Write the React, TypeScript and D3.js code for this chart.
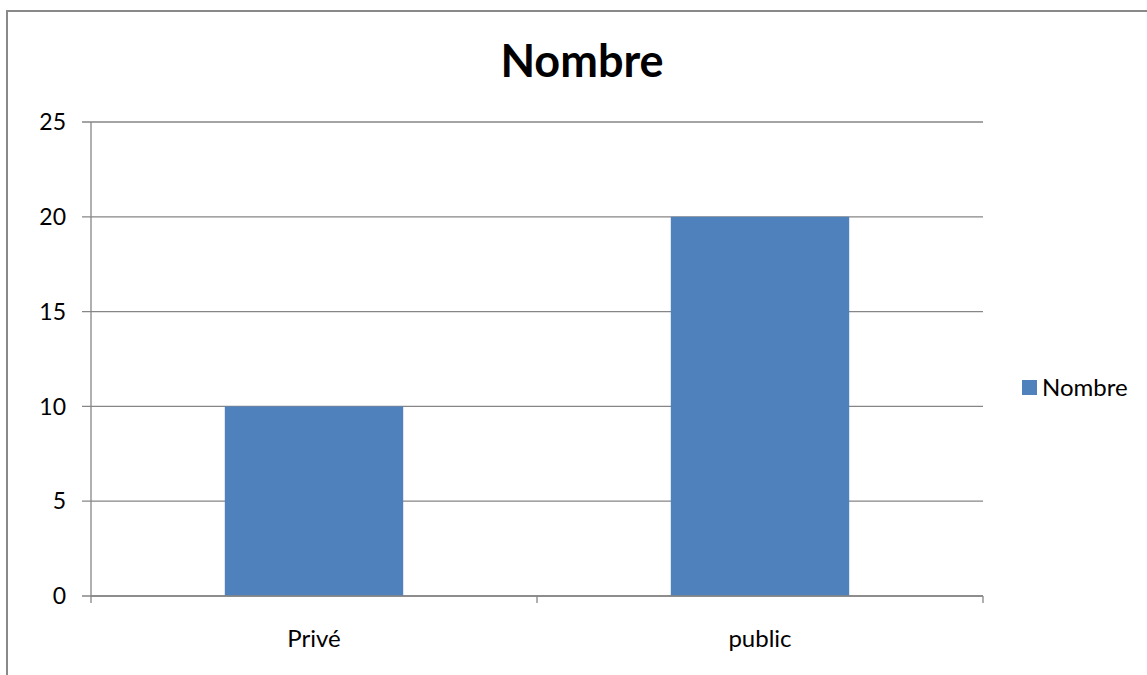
import React from "react";
import * as d3 from "d3";

const categories = ["Privé", "public"];
const values = [10, 20];
const yTicks = [0, 5, 10, 15, 20, 25];
const seriesName = "Nombre";
const title = "Nombre";

const W = 1147;
const H = 675;
const FONT = "Lato, 'Open Sans', sans-serif";

export default function App() {
  const plot = { left: 91, right: 983, top: 122, bottom: 596 };
  const x = d3
    .scaleBand<string>()
    .domain(categories)
    .range([plot.left, plot.right])
    .paddingInner(0.6)
    .paddingOuter(0.3);
  const y = d3.scaleLinear().domain([0, 25]).range([plot.bottom, plot.top]);
  const step = (plot.right - plot.left) / categories.length;
  const boundaries = d3.range(categories.length + 1).map((i) => plot.left + i * step);

  return (
    <svg
      width={W}
      height={H}
      style={{ position: "absolute", left: 0, top: 0, display: "block" }}
    >
      <rect x={0} y={0} width={W} height={H} fill="#fff" />
      {/* chart frame */}
      <rect x={7} y={11} width={W + 20} height={H + 20} fill="none" stroke="#898989" strokeWidth={2} />
      <text x={582} y={77} textAnchor="middle" fontFamily={FONT} fontWeight="bold" fontSize={45} fill="#000">
        {title}
      </text>
      {/* gridlines and y ticks */}
      {yTicks.map((t) => (
        <g key={t}>
          <line x1={plot.left - 9} x2={plot.right} y1={y(t)} y2={y(t)} stroke="#868686" strokeWidth={1.3} />
          <text x={66} y={y(t)} dy="0.36em" textAnchor="end" fontFamily={FONT} fontSize={23} fill="#000">
            {t}
          </text>
        </g>
      ))}
      {/* bars */}
      {categories.map((c, i) => (
        <rect key={c} x={x(c)} y={y(values[i])} width={x.bandwidth()} height={y(0) - y(values[i])} fill="#4F81BD" />
      ))}
      {/* axes */}
      <line x1={plot.left} x2={plot.left} y1={plot.top} y2={plot.bottom} stroke="#868686" strokeWidth={1.3} />
      <line x1={plot.left} x2={plot.right} y1={plot.bottom} y2={plot.bottom} stroke="#868686" strokeWidth={1.3} />
      {boundaries.map((b, i) => (
        <line key={i} x1={b} x2={b} y1={plot.bottom} y2={plot.bottom + 7} stroke="#868686" strokeWidth={1.3} />
      ))}
      {categories.map((c) => (
        <text key={c} x={(x(c) as number) + x.bandwidth() / 2} y={647} textAnchor="middle" fontFamily={FONT} fontSize={24} fill="#000">
          {c}
        </text>
      ))}
      {/* legend */}
      <rect x={1022} y={380} width={15} height={15} fill="#4F81BD" />
      <text x={1042} y={396} fontFamily={FONT} fontSize={24} fill="#000">
        {seriesName}
      </text>
    </svg>
  );
}
